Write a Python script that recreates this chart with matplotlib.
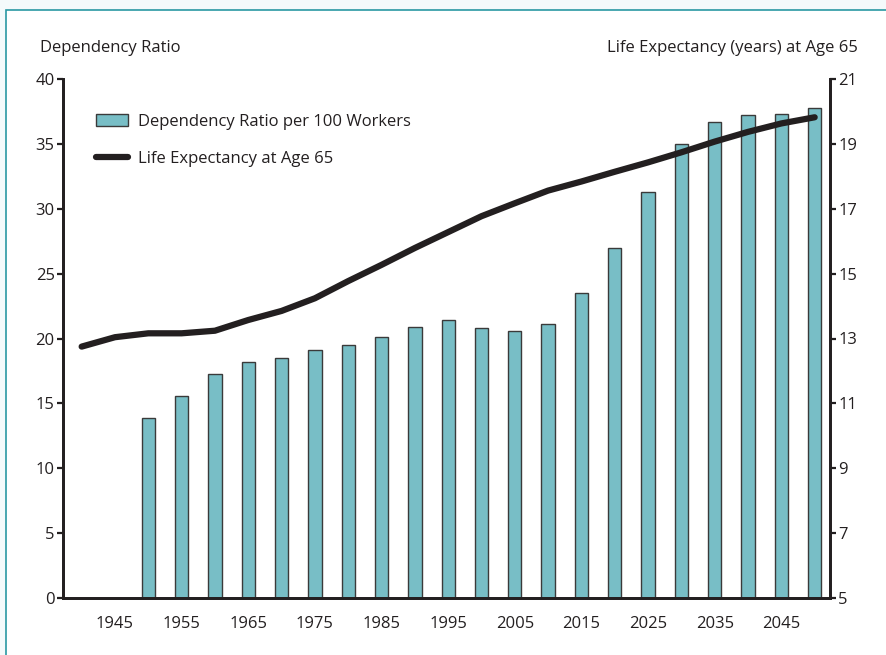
import matplotlib
matplotlib.use("Agg")
import matplotlib.pyplot as plt
from matplotlib.patches import Patch, Rectangle
from matplotlib.lines import Line2D

# --- Data ---
bar_years = [1950, 1955, 1960, 1965, 1970, 1975, 1980, 1985, 1990, 1995, 2000,
             2005, 2010, 2015, 2020, 2025, 2030, 2035, 2040, 2045, 2050]
dependency_ratio = [13.9, 15.6, 17.3, 18.2, 18.5, 19.1, 19.5, 20.1, 20.9, 21.4, 20.8,
                    20.6, 21.1, 23.5, 27.0, 31.3, 35.0, 36.7, 37.2, 37.3, 37.8]

line_years = [1940, 1945, 1950, 1955, 1960, 1965, 1970, 1975, 1980, 1985, 1990, 1995,
              2000, 2005, 2010, 2015, 2020, 2025, 2030, 2035, 2040, 2045, 2050]
life_expectancy = [12.75, 13.04, 13.16, 13.16, 13.24, 13.57, 13.85, 14.24, 14.77, 15.27,
                   15.79, 16.28, 16.77, 17.17, 17.56, 17.84, 18.14, 18.43, 18.74, 19.07,
                   19.37, 19.63, 19.82]

x_ticks = [1945, 1955, 1965, 1975, 1985, 1995, 2005, 2015, 2025, 2035, 2045]
left_ticks = [0, 5, 10, 15, 20, 25, 30, 35, 40]
right_ticks = [5, 7, 9, 11, 13, 15, 17, 19, 21]

# --- Style ---
DARK = "#231f20"
TEAL = "#78bec6"
FS = 12
plt.rcParams["font.family"] = ["Open Sans", "DejaVu Sans"]
plt.rcParams["font.size"] = FS

fig = plt.figure(figsize=(8.87, 6.55), dpi=100)

# light tinted background with teal frame
fig.patch.set_facecolor("white")
fig.patches.append(Rectangle((0, 0), 1, 1, transform=fig.transFigure,
                             facecolor="#f4fafb", edgecolor="none", zorder=-3))
fig.patches.append(Rectangle((6 / 887, -0.05), 1.0, 1 - 10 / 655 + 0.05,
                             transform=fig.transFigure, facecolor="white",
                             edgecolor="#2a98a3", linewidth=1.2, zorder=-2))

ax = fig.add_axes([63 / 887, 1 - 598 / 655, (830 - 63) / 887, (598 - 79) / 655])
ax.set_facecolor("none")
ax2 = ax.twinx()

ax.bar(bar_years, dependency_ratio, width=2.0, color=TEAL, edgecolor="#3a3a3a",
       linewidth=1.0, zorder=2)
ax2.plot(line_years, life_expectancy, color=DARK, linewidth=4.5,
         solid_capstyle="round", solid_joinstyle="round", zorder=3)

ax.set_xlim(1937.2, 2052.3)
ax.set_ylim(0, 40)
ax2.set_ylim(5, 21)
ax.set_xticks(x_ticks)
ax.set_yticks(left_ticks)
ax2.set_yticks(right_ticks)

for a in (ax, ax2):
    for side in ("left", "right", "bottom"):
        a.spines[side].set_linewidth(2.0)
        a.spines[side].set_color(DARK)
    a.spines["top"].set_visible(False)
    a.tick_params(axis="y", length=4, width=1.6, color=DARK, labelsize=FS,
                  labelcolor=DARK, pad=2)
ax.tick_params(axis="x", length=0, labelsize=FS, labelcolor=DARK, pad=13)

fig.text(40 / 887, 1 - 48 / 655, "Dependency Ratio", ha="left", va="center",
         fontsize=FS, color=DARK)
fig.text(858 / 887, 1 - 48 / 655, "Life Expectancy (years) at Age 65", ha="right",
         va="center", fontsize=FS, color=DARK)

handles = [Patch(facecolor=TEAL, edgecolor="#3a3a3a", linewidth=1.0),
           Line2D([0], [0], color=DARK, linewidth=4.5, solid_capstyle="round")]
labels = ["Dependency Ratio per 100 Workers", "Life Expectancy at Age 65"]
ax2.legend(handles, labels, loc="upper left", bbox_to_anchor=(0.024, 0.962),
           frameon=False, fontsize=FS, handlelength=1.9, handleheight=0.75,
           labelspacing=1.25, handletextpad=0.6, labelcolor=DARK)

fig.savefig("out.png", dpi=100)
